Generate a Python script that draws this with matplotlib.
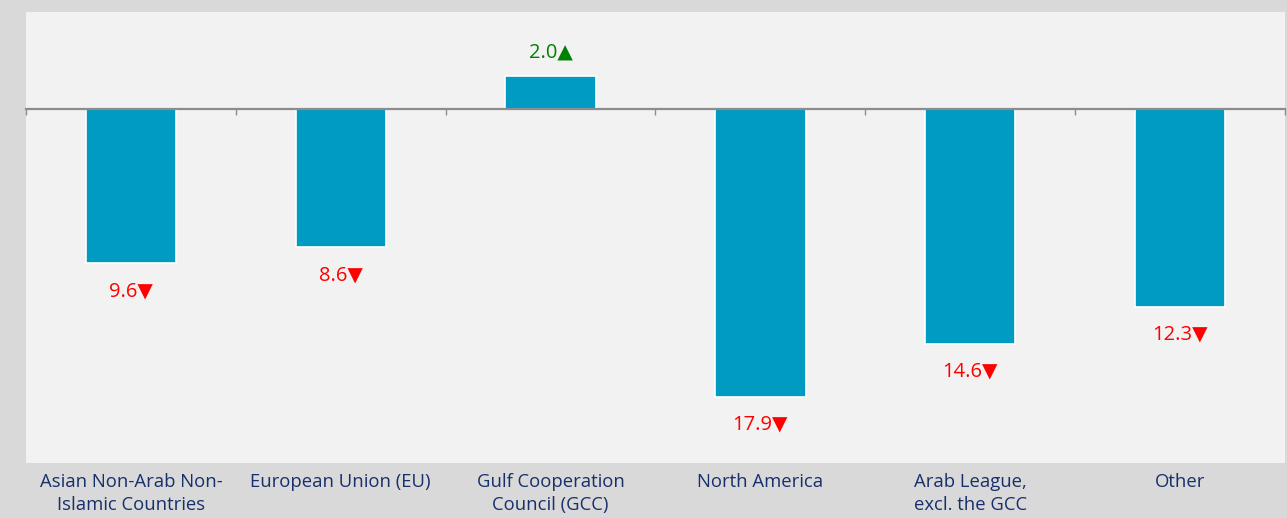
import matplotlib.pyplot as plt
import matplotlib.transforms as mtransforms
import numpy as np

categories = ["Asian Non-Arab Non-\nIslamic Countries", "European Union (EU)",
              "Gulf Cooperation\nCouncil (GCC)", "North America",
              "Arab League,\nexcl. the GCC", "Other"]
changes = [-9.6, -8.6, 2.0, -17.9, -14.6, -12.3]

BAR = "#009bc2"
NAVY = "#17306b"

plt.rcParams['font.family'] = ['Open Sans', 'DejaVu Sans']

fig = plt.figure(figsize=(12.87, 5.18), dpi=100, facecolor="#d9d9d9")
ax = fig.add_axes([26 / 1287, 55 / 518, 1259 / 1287, 451 / 518])
ax.set_facecolor("#f2f2f2")

x = np.arange(len(categories))
ax.bar(x, changes, width=0.43, color=BAR, edgecolor="white", linewidth=1.2, zorder=2)

ax.set_xlim(-0.5, len(categories) - 0.5)
ax.set_ylim(-22, 6)

for s in ["top", "right", "left"]:
    ax.spines[s].set_visible(False)
ax.spines["bottom"].set_position(("data", 0))
ax.spines["bottom"].set_color("#8c8c8c")
ax.spines["bottom"].set_linewidth(1.6)
ax.spines["bottom"].set_zorder(3)
ax.set_yticks([])
ax.set_xticks(np.arange(-0.5, len(categories)))
ax.set_xticklabels([])
ax.tick_params(axis="x", direction="out", length=4, width=1.0, color="#8c8c8c")

for xi, v in zip(x, changes):
    if v < 0:
        ax.annotate(f"{abs(v):.1f}\u25BC", (xi, v), xytext=(0, -28), textcoords="offset pixels",
                    ha="center", va="center", color="#ff0000", fontsize=14.5)
    else:
        ax.annotate(f"{abs(v):.1f}\u25B2", (xi, v), xytext=(0, 24), textcoords="offset pixels",
                    ha="center", va="center", color="#008000", fontsize=14.5)

trans = mtransforms.blended_transform_factory(ax.transData, ax.transAxes)
for xi, lab in zip(x, categories):
    ax.text(xi, -0.022, lab, transform=trans, ha="center", va="top",
            color=NAVY, fontsize=13.3, linespacing=1.38)

fig.savefig("out.png", dpi=100, facecolor=fig.get_facecolor())
